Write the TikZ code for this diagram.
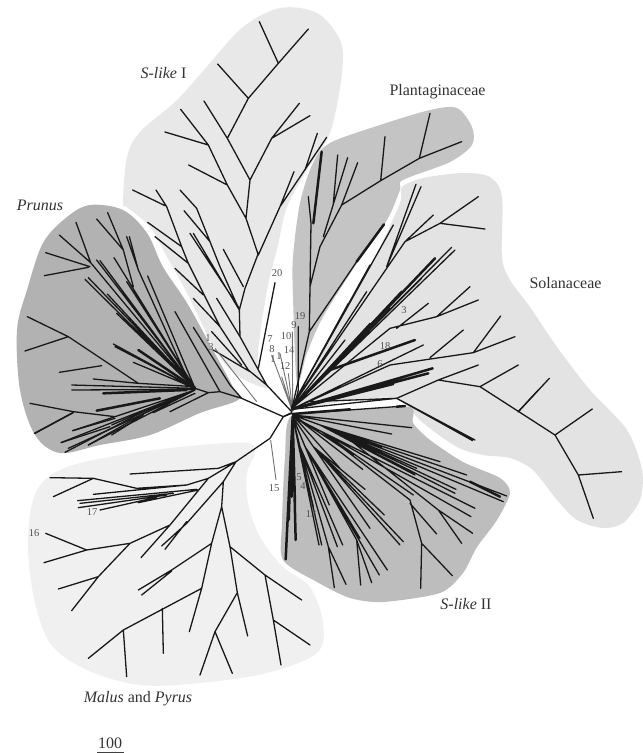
\documentclass[tikz,border=0pt]{standalone}
\usepackage{fontspec}
\setmainfont{Liberation Serif}
\tikzset{
 zm/.style 2 args={x=.33333pt,y=-.33333pt,shift={(#1pt,-#2pt)}},
 br/.style={line width=1.3pt,black!90,line cap=round,line join=round},
 thk/.style={line width=2.5pt,black!90,line cap=round},
 gl/.style={line width=.9pt,black!55},
 lab/.style={font=\fontsize{16}{18}\selectfont,text=black!80,inner sep=0pt},
 num/.style={font=\fontsize{10.5}{12}\selectfont,text=black!68,inner sep=0pt}
}
\definecolor{prun}{gray}{.70}
\definecolor{slii}{gray}{.74}
\definecolor{plan}{gray}{.77}
\definecolor{sola}{gray}{.89}
\definecolor{sli}{gray}{.91}
\definecolor{malu}{gray}{.94}
\begin{document}
\begin{tikzpicture}[x=1pt,y=-1pt]
\useasboundingbox (0,0) rectangle (643,753);
\fill[white] (0,0) rectangle (643,753);
% regions
\fill[sli] plot[smooth cycle,tension=.55] coordinates {(123,203)(127,157)(140,132)(177,100)(210,63)(243,27)(280,8)(317,13)(340,40)(342,73)(330,133)(307,170)(287,207)(278,245)(268,285)(260,335)(258,368)(268,388)(240,377)(217,353)(187,293)(167,257)(150,227)(127,207)};
\fill[prun] plot[smooth cycle,tension=.55] coordinates {(17,330)(27,290)(43,243)(67,217)(90,205)(123,210)(147,233)(163,267)(187,303)(213,350)(233,387)(238,400)(200,413)(150,435)(100,445)(60,453)(35,435)(20,390)};
\fill[plan] plot[smooth cycle,tension=.5] coordinates {(297,383)(293,297)(293,257)(300,203)(313,163)(330,143)(380,125)(430,110)(457,108)(472,127)(472,145)(450,162)(403,180)(400,190)(387,220)(357,263)(323,317)(307,353)};
\fill[sola] plot[smooth cycle,tension=.5] coordinates {(402,187)(423,178)(463,173)(490,177)(502,197)(502,257)(510,280)(530,307)(557,347)(590,390)(627,430)(642,470)(640,500)(623,523)(603,528)(577,520)(557,500)(533,470)(510,458)(483,455)(457,447)(423,423)(397,399)(350,400)(297,408)(310,377)(350,303)(377,253)(400,203)};
\fill[slii] plot[smooth cycle,tension=.45] coordinates {(283,560)(282,523)(285,457)(292,415)(350,410)(410,407)(413,423)(430,440)(463,462)(500,478)(510,493)(497,520)(477,547)(463,573)(440,593)(383,602)(350,598)(317,582)};
\fill[malu] plot[smooth cycle,tension=.55] coordinates {(247,443)(200,445)(133,453)(67,467)(37,490)(28,537)(33,593)(50,643)(87,670)(140,685)(200,683)(267,673)(317,653)(323,623)(310,587)(283,567)(260,537)(248,503)(247,473)(255,453)};
% S-like I, upper part
\begin{scope}[zm={110}{0}]
\draw[br] (445,765)--(408,655)--(352,555)--(295,435)--(212,328) (408,655)--(420,540)--(352,415)--(282,303) (352,415)--(415,295)--(505,190)--(595,87) (505,190)--(448,65) (415,295)--(323,192) (420,540)--(485,415)--(568,310) (485,415)--(600,347) (295,435)--(165,396) (352,555)--(236,495) (445,765)--(510,620)--(650,412) (510,620)--(552,515) (585,510)--(622,400);
\end{scope}
% S-like I lower, Prunus
\begin{scope}[zm={0}{190}]
\draw[br] (775,190)--(735,295)--(718,360)--(720,440)--(800,585)--(875,665)
 (468,0)--(500,50)--(545,170)--(565,220)--(610,310)--(660,410)--(745,540)--(800,585)
 (398,0)--(495,47) (443,97)--(545,170) (465,140)--(565,220) (525,235)--(610,315) (580,325)--(660,410) (635,425)--(725,525) (650,325)--(720,440) (670,178)--(730,290)
 (552,62)--(630,155)--(660,230)--(718,360) (540,0)--(590,55)--(630,155) (570,130)--(718,355) (580,130)--(718,360)
 (825,278)--(775,535) (640,480)--(750,545);
\draw[gl] (645,475)--(770,635);
\draw[br] (875,668)--(850,680)--(725,625)--(660,605)--(625,608)--(585,595) (660,605)--(525,365) (625,608)--(510,665) (580,412)--(690,585)--(725,625);
% Prunus upper fan
\draw[br] (585,595)--(255,268) (585,595)--(265,263) (585,595)--(290,210) (585,595)--(300,212) (585,595)--(342,203) (585,595)--(272,218)--(228,97) (272,218)--(178,135) (270,230)--(137,188) (265,232)--(133,257) (585,595)--(380,275) (585,595)--(322,312) (585,595)--(350,370) (585,595)--(443,258) (560,560)--(415,240)--(380,140) (415,240)--(388,140) (400,290)--(370,180)--(290,87) (370,180)--(323,68);
\draw[thk] (570,580)--(415,420);
% Prunus lower fan
\draw[br] (585,595)--(340,462) (585,595)--(345,470) (585,595)--(400,517) (585,590)--(415,580)--(205,440)--(82,380) (205,440)--(75,483) (305,527)--(178,547) (415,580)--(280,567) (585,595)--(215,585) (585,598)--(215,600) (585,600)--(345,680)--(220,665)--(90,640) (220,668)--(105,730) (345,680)--(218,722) (585,600)--(335,705) (585,600)--(185,757) (585,600)--(265,765) (585,600)--(205,775) (585,610)--(460,668);
\draw[thk] (585,595)--(415,480) (560,600)--(310,610) (480,625)--(290,662);
\end{scope}
\begin{scope}[zm={0}{410}]
\draw[br] (103,70)--(218,8) (218,62)--(345,25) (183,98)--(330,50) (195,127)--(430,5) (265,105)--(450,0) (335,75)--(430,15);
% Malus and Pyrus
\draw[br] (875,10)--(850,20)--(810,85)--(708,155)--(655,175)--(390,192)
 (708,155)--(625,205)--(510,345)--(390,400)--(260,420)--(132,458) (260,420)--(137,370) (390,400)--(295,500)--(215,602) (295,500)--(175,537) (510,345)--(423,443)
 (625,205)--(560,225)--(410,235)--(280,205)--(150,203) (280,205)--(160,260) (560,225)--(280,253)
 (595,240)--(415,278) (590,238)--(233,272) (500,255)--(235,293) (470,262)--(300,300) (520,250)--(240,280)
 (708,155)--(670,215)--(560,340)--(485,408) (670,215)--(665,290)--(635,400)--(605,535)--(568,665) (560,335)--(495,418)
 (635,400)--(515,480)--(415,540) (515,483)--(425,555)
 (605,535)--(370,660)--(265,745) (370,660)--(380,800) (487,595)--(490,730)
 (665,290)--(690,410)--(712,548)--(743,678) (712,548)--(645,665)--(600,795) (645,665)--(697,790) (690,410)--(795,495)--(905,570) (795,495)--(820,630)--(843,765) (820,630)--(930,705);
\draw[gl] (812,90)--(828,210);
\end{scope}
% Centre labels' lines
\begin{scope}[zm={240}{280}]
\draw[gl] (158,395)--(95,225) (158,395)--(120,220) (158,395)--(157,155) (158,395)--(145,280) (158,395)--(125,290);
\draw[br] (175,140)--(175,330)--(160,390);
\end{scope}
% Plantaginaceae and Solanaceae
\begin{scope}[zm={290}{90}]
\draw[br] (5,960)--(58,725)--(60,590)--(90,470)--(155,345)--(272,272)--(388,205)--(515,155) (388,205)--(420,70) (272,272)--(285,140) (155,345)--(203,218) (100,440)--(173,203) (130,340)--(143,195) (60,590)--(63,400)--(55,320) (58,725)--(200,515);
\draw[thk] (200,515)--(282,403) (70,400)--(95,185);
\draw[br] (5,950)--(310,405) (5,950)--(240,525) (5,950)--(230,605) (5,950)--(175,640) (5,950)--(345,455)--(430,375) (345,455)--(450,400)--(565,320) (450,400)--(585,417) (290,530)--(378,283) (290,530)--(393,290)
 (5,955)--(485,472) (5,955)--(495,480) (5,955)--(395,565) (5,955)--(335,603) (5,955)--(300,655) (5,955)--(300,715)--(440,680)--(540,590) (440,680)--(565,630) (320,715)--(415,640) (5,955)--(240,700) (5,955)--(165,750)
 (5,958)--(400,765) (5,958)--(300,825)--(550,788)--(632,678) (550,788)--(675,740) (420,803)--(520,720)
 (60,935)--(320,925)--(445,870)--(565,825) (445,870)--(570,890)--(685,825) (684,966)--(778,865) (5,958)--(320,925);
\draw[thk] (5,955)--(435,505) (120,840)--(375,750) (5,958)--(428,835) (5,958)--(415,850) (5,958)--(310,882);
\end{scope}
\begin{scope}[zm={250}{390}]
\draw[br] (690,-10)--(915,135)--(1027,57) (915,135)--(985,255)--(1115,245) (985,255)--(1030,385) (805,65)--(865,0) (440,25)--(675,150) (440,25)--(668,152);
% S-like II
\draw[br] (128,72)--(465,48) (128,75)--(485,113) (128,75)--(425,132) (128,75)--(395,172) (128,75)--(310,195) (128,75)--(338,238) (128,75)--(270,235)
 (128,75)--(210,105)--(770,318) (210,105)--(760,335) (210,105)--(650,255) (210,105)--(570,215) (210,105)--(500,235) (210,105)--(495,255) (210,105)--(618,298) (210,105)--(615,310)
 (128,80)--(215,125)--(675,355) (215,125)--(663,380) (215,125)--(490,315) (215,125)--(480,330)--(515,460)--(512,595) (515,460)--(607,557) (480,340)--(560,432) (300,150)--(565,360)--(668,430) (565,360)--(635,460)
 (128,80)--(190,170)--(345,298) (190,170)--(403,375) (190,170)--(460,455) (190,170)--(450,465) (190,170)--(360,415) (128,80)--(238,345)
 (128,80)--(165,170)--(412,540) (165,170)--(388,555) (165,170)--(320,450)--(332,585) (320,450)--(365,578) (165,170)--(330,445)
 (128,80)--(150,170)--(235,470)--(253,593) (235,470)--(288,583) (150,170)--(278,465) (150,170)--(262,470)
 (128,80)--(215,465) (128,80)--(207,465) (128,80)--(190,350) (128,80)--(118,390);
\draw[thk] (128,72)--(300,58) (128,80)--(107,508) (128,80)--(137,450) (128,80)--(135,345) (128,80)--(125,320) (660,275)--(750,320) (440,50)--(465,48);
\end{scope}
% Labels
\node[lab] (lsi) at (163.5,73) {\textit{S-like} I};
\node[lab] (lpr) at (40,205) {\textit{Prunus}};
\node[lab] (lpl) at (437.5,92) {Plantaginaceae};
\node[lab] (lso) at (565.5,283) {Solanaceae};
\node[lab] (lsii) at (466,604) {\textit{S-like} II};
\node[lab] (lma) at (138,699) {\textit{Malus} and \textit{Pyrus}};
\node[lab] (lsc) at (110,743) {100};
\coordinate (sa) at (97,752);
\coordinate (sb) at (124,752);
\draw[line width=.9pt,black!75] (sa)--(sb);
\foreach \n/\x/\y in {20/277/273,19/300/316,9/294/325,10/286/336,7/270/339,8/272/349,14/289/350,12/285/366,1/208/338,3/211/347,3/404/310,18/385/346,6/380/364,5/299/477,4/303/486,13/311/514,15/274/488,16/34/533,17/92/512}
  \node[num] (n\n x\x) at (\x,\y) {\n};
\node[num] (n11) at (273,359) {1};
\node[num] (n1b) at (279,356) {1};
\end{tikzpicture}
\end{document}
